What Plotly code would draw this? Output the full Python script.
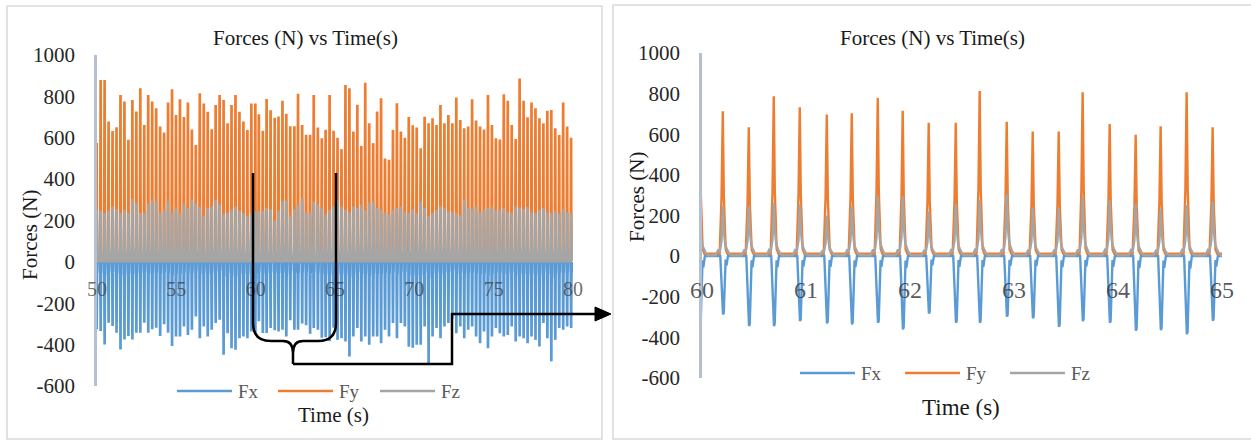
import numpy as np
import plotly.graph_objects as go

W, H = 1251, 441

# ---------------- data ----------------
# right panel: 60-65 s, one step every ~0.25 s
right_times = [60.20, 60.45, 60.69, 60.94, 61.20, 61.44, 61.69, 61.93, 62.18, 62.44,
               62.67, 62.93, 63.18, 63.43, 63.66, 63.92, 64.17, 64.41, 64.66, 64.91]
right_fy = [713, 634, 787, 733, 697, 703, 779, 716, 656, 656,
            813, 662, 614, 614, 807, 650, 598, 639, 807, 634]
right_fz = [246, 246, 262, 254, 200, 249, 295, 295, 221, 254,
            275, 305, 239, 239, 292, 275, 259, 230, 251, 267]
right_fx = [-287, -344, -344, -320, -331, -336, -328, -361, -282, -328,
            -328, -298, -306, -348, -320, -328, -367, -364, -384, -318]

# left panel, 50-60 s (41 steps)
pre_fy = [575, 879, 879, 678, 633, 651, 807, 775, 590, 783,
          727, 839, 662, 807, 775, 743, 654, 625, 770, 834,
          710, 786, 700, 770, 640, 565, 815, 766, 726, 641,
          758, 807, 782, 670, 758, 807, 726, 678, 638, 766,
          766]
pre_fz = [249, 249, 236, 249, 268, 256, 236, 252, 236, 304,
          285, 236, 236, 281, 297, 293, 236, 252, 293, 236,
          260, 236, 277, 260, 300, 281, 265, 223, 260, 268,
          300, 277, 232, 236, 252, 268, 248, 236, 220, 236,
          244]
pre_fx = [-326, -334, -399, -294, -310, -342, -423, -375, -358, -375,
          -342, -342, -294, -342, -326, -318, -358, -302, -342, -407,
          -361, -361, -312, -353, -328, -264, -369, -312, -361, -328,
          -296, -280, -449, -345, -417, -425, -369, -361, -369, -337,
          -345]

# left panel, 65-80 s (60 steps)
post_fy = [600, 545, 855, 839, 630, 760, 560, 866, 670, 574,
           727, 791, 500, 494, 638, 767, 630, 600, 700, 660,
           650, 549, 702, 670, 694, 662, 758, 670, 710, 670,
           794, 686, 646, 654, 786, 683, 654, 640, 807, 662,
           597, 592, 810, 779, 662, 594, 887, 779, 699, 770,
           742, 694, 670, 731, 734, 646, 613, 770, 654, 600]
post_fz = [300, 265, 252, 240, 268, 260, 277, 250, 285, 293,
           260, 252, 236, 228, 252, 260, 268, 240, 236, 256,
           232, 293, 260, 220, 236, 252, 268, 260, 245, 240,
           236, 225, 300, 262, 256, 268, 240, 252, 260, 265,
           252, 248, 262, 240, 236, 268, 262, 256, 265, 240,
           236, 252, 260, 240, 236, 245, 232, 256, 240, 236]
post_fx = [-377, -369, -385, -457, -361, -320, -385, -361, -401, -361,
           -361, -393, -328, -361, -296, -369, -296, -312, -410, -415,
           -400, -401, -312, -489, -361, -320, -369, -312, -296, -272,
           -345, -312, -369, -328, -312, -361, -393, -337, -417, -361,
           -320, -345, -361, -353, -312, -385, -361, -369, -393, -361,
           -377, -409, -296, -369, -481, -377, -320, -328, -312, -320]

pre_times = list(np.linspace(49.98, 59.978, len(pre_fy)))
post_times = list(np.linspace(65.16, 79.88, len(post_fy)))

y_ticks = [-600, -400, -200, 0, 200, 400, 600, 800, 1000]
y_ticktext = ["-600", "-400", "-200", "0", "200", "400", "600", "800", "1000"]
left_xticks = [50, 55, 60, 65, 70, 75, 80]
right_xticks = [60, 61, 62, 63, 64, 65]
series_names = ["Fx", "Fy", "Fz"]
colors = {"Fx": "#5B9BD5", "Fy": "#ED7D31", "Fz": "#A5A5A5"}

# ---------------- pulse shapes (style of each step) ----------------
FY_SHAPE = [(-0.03, 0), (-0.012, 0.4), (0, 1), (0.01, 0.4), (0.028, 0.03), (0.045, 0)]
FZ_SHAPE = [(-0.07, 0), (-0.045, 0.1), (-0.03, 0.06), (-0.012, 0.3), (0, 1), (0.012, 0.45),
            (0.025, 0.2), (0.04, 0.12), (0.06, 0.04), (0.08, 0)]
FX_SHAPE = [(-0.024, 0), (-0.007, 0.9), (0.002, 1), (0.009, 0.97), (0.019, 0.25),
            (0.027, 0.06), (0.035, 0.16), (0.05, 0)]
BASE = {"Fx": 0, "Fy": 12, "Fz": 4}
SHAPES = {"Fx": FX_SHAPE, "Fy": FY_SHAPE, "Fz": FZ_SHAPE}


def series(times, peaks, name):
    xs, ys = [], []
    b = BASE[name]
    for t, p in zip(times, peaks):
        for dt, f in SHAPES[name]:
            xs.append(t + dt)
            ys.append(b + f * (p - b))
    return xs, ys


left_data = {
    "Fx": (pre_times + right_times + post_times, pre_fx + right_fx + post_fx),
    "Fy": (pre_times + right_times + post_times, pre_fy + right_fy + post_fy),
    "Fz": (pre_times + right_times + post_times, pre_fz + right_fz + post_fz),
}
right_data = {
    "Fx": ([pre_times[-1]] + right_times + [post_times[0]], [pre_fx[-1]] + right_fx + [post_fx[0]]),
    "Fy": ([pre_times[-1]] + right_times + [post_times[0]], [pre_fy[-1]] + right_fy + [post_fy[0]]),
    "Fz": ([pre_times[-1]] + right_times + [post_times[0]], [pre_fz[-1]] + right_fz + [post_fz[0]]),
}


def X(px):
    return px / W


def Y(py):
    return 1 - py / H


fig = go.Figure()
for name in series_names:
    xs, ys = series(*left_data[name], name)
    fig.add_trace(go.Scatter(x=xs, y=ys, mode="lines", name=name, showlegend=False,
                             line=dict(color=colors[name], width=2.7),
                             xaxis="x", yaxis="y"))
for name in series_names:
    xs, ys = series(*right_data[name], name)
    fig.add_trace(go.Scatter(x=xs, y=ys, mode="lines", name=name, showlegend=False,
                             line=dict(color=colors[name], width=2.4),
                             xaxis="x2", yaxis="y2"))

SERIF = "Liberation Serif, Times New Roman, serif"
ytick_font = dict(family=SERIF, size=21, color="#262626")
axis_line = "#b4c0d2"

fig.update_layout(
    width=W, height=H, autosize=False,
    margin=dict(l=0, r=0, t=0, b=0, pad=0, autoexpand=False),
    paper_bgcolor="white", plot_bgcolor="rgba(0,0,0,0)",
    xaxis=dict(domain=[X(97), X(573)], range=[50, 80], anchor="free", position=Y(275),
               tickvals=left_xticks, ticktext=[str(v) for v in left_xticks],
               showgrid=False, zeroline=False, showline=False, ticks="", automargin=False,
               tickfont=dict(family=SERIF, size=20, color="rgba(70,70,70,0.8)")),
    yaxis=dict(domain=[Y(386), Y(55)], range=[-600, 1000], anchor="x", automargin=False,
               tickvals=y_ticks, ticktext=y_ticktext,
               showgrid=False, zeroline=False, showline=True, linecolor=axis_line,
               linewidth=2.5, ticks="outside", ticklen=15, tickcolor="rgba(0,0,0,0)",
               tickfont=ytick_font),
    xaxis2=dict(domain=[X(702), X(1222)], range=[60, 65], anchor="free", position=Y(273),
                tickvals=right_xticks, ticktext=[str(v) for v in right_xticks],
                showgrid=False, zeroline=False, showline=False, ticks="", automargin=False,
                tickfont=dict(family=SERIF, size=24, color="rgba(60,60,60,0.85)")),
    yaxis2=dict(domain=[Y(378), Y(53)], range=[-600, 1000], anchor="x2", automargin=False,
                tickvals=y_ticks, ticktext=y_ticktext,
                showgrid=False, zeroline=False, showline=True, linecolor=axis_line,
                linewidth=2.5, ticks="outside", ticklen=15, tickcolor="rgba(0,0,0,0)",
                tickfont=ytick_font),
)

annotations = []


def text(s, px, py, size, color="#1a1a1a", angle=0, xanchor="center"):
    annotations.append(dict(text=s, x=X(px), y=Y(py), xref="paper", yref="paper",
                            showarrow=False, xanchor=xanchor, yanchor="middle",
                            textangle=angle, font=dict(family=SERIF, size=size, color=color)))


text("Forces (N) vs Time(s)", 305, 38, 21)
text("Forces (N) vs Time(s)", 932, 38, 21)
text("Forces (N)", 30, 235, 21, angle=-90)
text("Forces (N)", 637, 197, 21, angle=-90)
text("Time (s)", 333, 415, 21)
text("Time (s)", 961, 407, 23)

shapes = []
# panel borders
shapes.append(dict(type="rect", xref="paper", yref="paper", x0=X(7), x1=X(602), y0=Y(439), y1=Y(6),
                   line=dict(color="#d9d9d9", width=1.5), layer="below"))
shapes.append(dict(type="rect", xref="paper", yref="paper", x0=X(613), x1=X(1260), y0=Y(439), y1=Y(5),
                   line=dict(color="#d9d9d9", width=1.5), layer="below"))

# legends (manual, long Excel-style line samples)
legend_rows = [((177, 278, 380), 391), ((800, 905, 1010), 373)]
for starts, ly in legend_rows:
    for name, sx in zip(series_names, starts):
        shapes.append(dict(type="line", xref="paper", yref="paper", x0=X(sx), x1=X(sx + 55),
                           y0=Y(ly), y1=Y(ly), line=dict(color=colors[name], width=2.5)))
        text(name, sx + 59, ly, 19, color="#595959", xanchor="left")


def path(cmds):
    out = []
    for c in cmds:
        if isinstance(c, str):
            out.append(c)
        else:
            out.append(f"{X(c[0]):.5f},{Y(c[1]):.5f}")
    return " ".join(out)


brace = path(["M", (253, 173), "L", (253, 323), "Q", (253, 341), (271, 341), "L", (283, 341),
              "Q", (293, 341), (293, 353), "L", (293, 364),
              "M", (293, 353), "Q", (293, 341), (303, 341), "L", (318, 341),
              "Q", (336, 341), (336, 323), "L", (336, 173)])
shapes.append(dict(type="path", xref="paper", yref="paper", path=brace,
                   line=dict(color="black", width=2.5)))
connector = path(["M", (293, 364), "L", (452, 364), "L", (452, 314), "L", (597, 314)])
shapes.append(dict(type="path", xref="paper", yref="paper", path=connector,
                   line=dict(color="black", width=2.5)))
head = path(["M", (595, 307), "L", (611, 314), "L", (595, 321), "Z"])
shapes.append(dict(type="path", xref="paper", yref="paper", path=head,
                   fillcolor="black", line=dict(color="black", width=1)))

fig.update_layout(annotations=annotations, shapes=shapes)
fig.write_html("out.html")
